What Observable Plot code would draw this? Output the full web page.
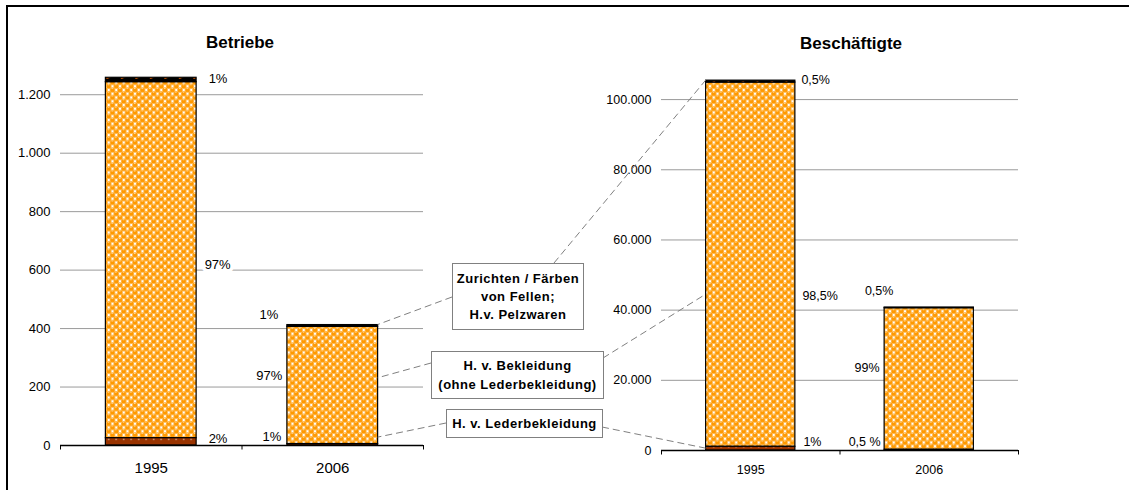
<!DOCTYPE html>
<html>
<head>
<meta charset="utf-8">
<script src="https://cdn.jsdelivr.net/npm/d3@7"></script>
<script src="https://cdn.jsdelivr.net/npm/@observablehq/plot@0.6"></script>
<style>
  html, body { margin: 0; padding: 0; background: #fff; }
  #wrap { position: relative; width: 1129px; height: 490px; overflow: hidden; background: #fff;
          font-family: "Liberation Sans", Arial, sans-serif; }
  #frame { position: absolute; left: 6px; top: 5px; width: 1300px; height: 700px;
           border-left: 2px solid #000; border-top: 2px solid #000; }
  .chart { position: absolute; top: 0; width: 440px; height: 490px; }
  #overlay { position: absolute; left: 0; top: 0; }
</style>
</head>
<body>
<div id="wrap">
  <div id="frame"></div>
  <svg width="0" height="0" style="position:absolute">
    <defs>
      <!-- orange "ball" texture for clothing -->
      <pattern id="kugeln" width="7.5" height="7.5" patternUnits="userSpaceOnUse">
        <rect width="7.5" height="7.5" fill="#fff"/>
        <circle cx="0" cy="0" r="2.62" fill="#ff9900"/>
        <circle cx="7.5" cy="0" r="2.62" fill="#ff9900"/>
        <circle cx="0" cy="7.5" r="2.62" fill="#ff9900"/>
        <circle cx="7.5" cy="7.5" r="2.62" fill="#ff9900"/>
        <circle cx="3.75" cy="3.75" r="2.62" fill="#ff9900"/>
        <ellipse cx="3.5" cy="2.4" rx="0.9" ry="0.45" fill="#fff" opacity="0.8"/>
        <ellipse cx="-0.25" cy="6.15" rx="0.9" ry="0.45" fill="#fff" opacity="0.8"/>
        <ellipse cx="7.25" cy="6.15" rx="0.9" ry="0.45" fill="#fff" opacity="0.8"/>
      </pattern>
      <!-- black with orange dashes for furs -->
      <pattern id="pelz" width="14.5" height="5" patternUnits="userSpaceOnUse">
        <rect width="14.5" height="5" fill="#000"/>
        <path d="M5,3.3 L9,1.7" stroke="#ff6600" stroke-width="1.5"/>
      </pattern>
      <!-- brown with white dots for leather -->
      <pattern id="leder" width="7.5" height="7.5" patternUnits="userSpaceOnUse">
        <rect width="7.5" height="7.5" fill="#993300"/>
        <rect x="3" y="3.6" width="1.3" height="1.3" fill="#fff" opacity="0.75"/>
      </pattern>
    </defs>
  </svg>
  <div id="left" class="chart" style="left:0px"></div>
  <div id="right" class="chart" style="left:590px"></div>
  <svg id="overlay" width="1129" height="490"></svg>
</div>
<script>
// Years shown on both charts
const years = ["1995", "2006"];

// Segments from bottom to top
const segmentNames = [
  "H. v. Lederbekleidung",
  "H. v. Bekleidung (ohne Lederbekleidung)",
  "Zurichten / Färben von Fellen; H.v. Pelzwaren"
];

// Betriebe (establishments) per year
const betriebeLeder = [25, 5];
const betriebeBekleidung = [1218, 401];
const betriebePelz = [15, 6];
// share labels per year: Leder, Bekleidung, Pelz
const betriebeShares = [["2%", "97%", "1%"], ["1%", "97%", "1%"]];
const betriebeTicks = [0, 200, 400, 600, 800, 1000, 1200];

// Beschäftigte (employees) per year
const beschLeder = [1050, 200];
const beschBekleidung = [103800, 40350];
const beschPelz = [550, 200];
const beschShares = [["1%", "98,5%", "0,5%"], ["0,5 %", "99%", "0,5%"]];
const beschTicks = [0, 20000, 40000, 60000, 80000, 100000];

// Callout texts, one box per segment
const calloutLines = [
  ["H. v. Lederbekleidung"],
  ["H. v. Bekleidung", "(ohne Lederbekleidung)"],
  ["Zurichten / Färben", "von Fellen;", "H.v. Pelzwaren"]
];

const fills = ["url(#leder)", "url(#kugeln)", "url(#pelz)"];
const fmt = d => d3.format(",")(d).replace(/,/g, ".");

function stackRows(leder, bek, pelz) {
  const rows = [];
  years.forEach((year, i) => {
    let base = 0;
    [leder[i], bek[i], pelz[i]].forEach((v, seg) => {
      rows.push({year, i, seg, y1: base, y2: base + v});
      base += v;
    });
  });
  return rows;
}

function drawChart(cfg) {
  const rows = stackRows(cfg.leder, cfg.bek, cfg.pelz);
  const labelMarks = rows.map(d => {
    const p = cfg.placement[d.i][d.seg];
    return Plot.text([d], {
      x: d.i === 0 ? d.i + 0.75 : d.i + 0.25,
      y: r => (r.y1 + r.y2) / 2,
      text: r => cfg.shares[r.i][r.seg],
      dx: p.dx, dy: p.dy, textAnchor: p.anchor,
      fontSize: cfg.labelSize, fill: "#000", stroke: "#fff", strokeWidth: 7
    });
  });
  return Plot.plot({
    width: cfg.width, height: 490,
    marginLeft: cfg.ml, marginRight: cfg.mr, marginTop: cfg.mt, marginBottom: cfg.mb,
    style: {fontFamily: '"Liberation Sans", Arial, sans-serif', background: "transparent", color: "#000"},
    x: {type: "linear", domain: [0, 2]},
    y: {domain: [0, cfg.yMax]},
    marks: [
      Plot.gridY(cfg.ticks.filter(t => t > 0), {stroke: "#9a9a9a", strokeOpacity: 1}),
      Plot.axisY(cfg.ticks, {tickSize: 0, tickPadding: 10, tickFormat: fmt, fontSize: cfg.tickSize}),
      ...labelMarks,
      ...[1, 0, 2].map(seg => Plot.rect(rows.filter(d => d.seg === seg), {
        x1: d => d.i + 0.25, x2: d => d.i + 0.75, y1: "y1", y2: "y2",
        fill: fills[seg], stroke: "#000", strokeWidth: 1.2
      })),
      Plot.ruleY([0], {stroke: "#000", strokeWidth: 1.3}),
      Plot.axisX([0, 1, 2], {tickSize: 4.5, tickFormat: () => "", stroke: "#000"}),
      Plot.axisX([0.5, 1.5], {tickSize: 0, tickPadding: cfg.catPad, tickFormat: d => years[Math.floor(d)], fontSize: cfg.catSize}),
      Plot.text([cfg.title], {frameAnchor: "top", dx: cfg.titleDx, dy: cfg.titleDy, fontWeight: "bold", fontSize: 17, fill: "#000"})
    ]
  });
}

const leftChart = drawChart({
  title: "Betriebe", leder: betriebeLeder, bek: betriebeBekleidung, pelz: betriebePelz,
  shares: betriebeShares, ticks: betriebeTicks, yMax: 1300,
  width: 440, ml: 60, mr: 17, mt: 65, mb: 45,
  tickSize: 13, catSize: 15, catPad: 17, labelSize: 13, titleDx: -2, titleDy: -30,
  placement: [
    [{dx: 12, dy: -3.5, anchor: "start"}, {dx: 8, dy: 5, anchor: "start"}, {dx: 12, dy: -1.5, anchor: "start"}],
    [{dx: -6, dy: -7.5, anchor: "end"}, {dx: -5, dy: -10, anchor: "end"}, {dx: -9, dy: -11, anchor: "end"}]
  ]
});
document.getElementById("left").append(leftChart);

const rightChart = drawChart({
  title: "Beschäftigte", leder: beschLeder, bek: beschBekleidung, pelz: beschPelz,
  shares: beschShares, ticks: beschTicks, yMax: 110000,
  width: 440, ml: 71, mr: 12, mt: 64, mb: 40,
  tickSize: 12.5, catSize: 12.5, catPad: 15, labelSize: 12.5, titleDx: 11, titleDy: -27.5,
  placement: [
    [{dx: 8, dy: -7, anchor: "start"}, {dx: 7, dy: 31, anchor: "start"}, {dx: 6, dy: -2, anchor: "start"}],
    [{dx: -4, dy: -8, anchor: "end"}, {dx: -5, dy: -11, anchor: "end"}, {dx: -5.5, dy: -17, anchor: "middle"}]
  ]
});
document.getElementById("right").append(rightChart);

// Leader lines and callout boxes between the two charts
const leftOffset = 0, rightOffset = 590;
const L = (x, y) => [leftChart.scale("x").apply(x) + leftOffset, leftChart.scale("y").apply(y)];
const R = (x, y) => [rightChart.scale("x").apply(x) + rightOffset, rightChart.scale("y").apply(y)];
const betriebeTotal2006 = betriebeLeder[1] + betriebeBekleidung[1] + betriebePelz[1];
const beschTotal1995 = beschLeder[0] + beschBekleidung[0] + beschPelz[0];

const callouts = [
  {lines: calloutLines[2], box: {x: 452, y: 263, w: 131, h: 66},
   links: [[[452, 297], L(1.75, betriebeTotal2006)], [[554, 263], R(0.25, beschTotal1995)]]},
  {lines: calloutLines[1], box: {x: 431, y: 351, w: 172, h: 47},
   links: [[[431, 363], L(1.75, 230)], [[603, 358], R(0.25, 44400)]]},
  {lines: calloutLines[0], box: {x: 446, y: 409, w: 156, h: 28},
   links: [[[446, 423], L(1.75, 27)], [[602, 427], R(0.25, beschLeder[0] / 2)]]}
];

const ov = d3.select("#overlay");
callouts.forEach(c => {
  c.links.forEach(([a, b]) => {
    ov.append("line")
      .attr("x1", a[0]).attr("y1", a[1]).attr("x2", b[0]).attr("y2", b[1])
      .attr("stroke", "#808080").attr("stroke-width", 1).attr("stroke-dasharray", "7,4");
  });
});
callouts.forEach(c => {
  const {x, y, w, h} = c.box;
  ov.append("rect").attr("x", x + 0.5).attr("y", y + 0.5).attr("width", w).attr("height", h)
    .attr("fill", "#fff").attr("stroke", "#808080").attr("stroke-width", 1);
  const n = c.lines.length, lh = n === 3 ? 18 : 19;
  c.lines.forEach((t, k) => {
    ov.append("text")
      .attr("x", x + w / 2 + 0.5)
      .attr("y", y + h / 2 + (k - (n - 1) / 2) * lh)
      .attr("dy", "0.35em")
      .attr("text-anchor", "middle")
      .attr("font-family", '"Liberation Sans", Arial, sans-serif')
      .attr("font-weight", "bold").attr("font-size", 13).attr("letter-spacing", "0.5px")
      .attr("fill", "#000")
      .text(t);
  });
});
</script>
</body>
</html>
